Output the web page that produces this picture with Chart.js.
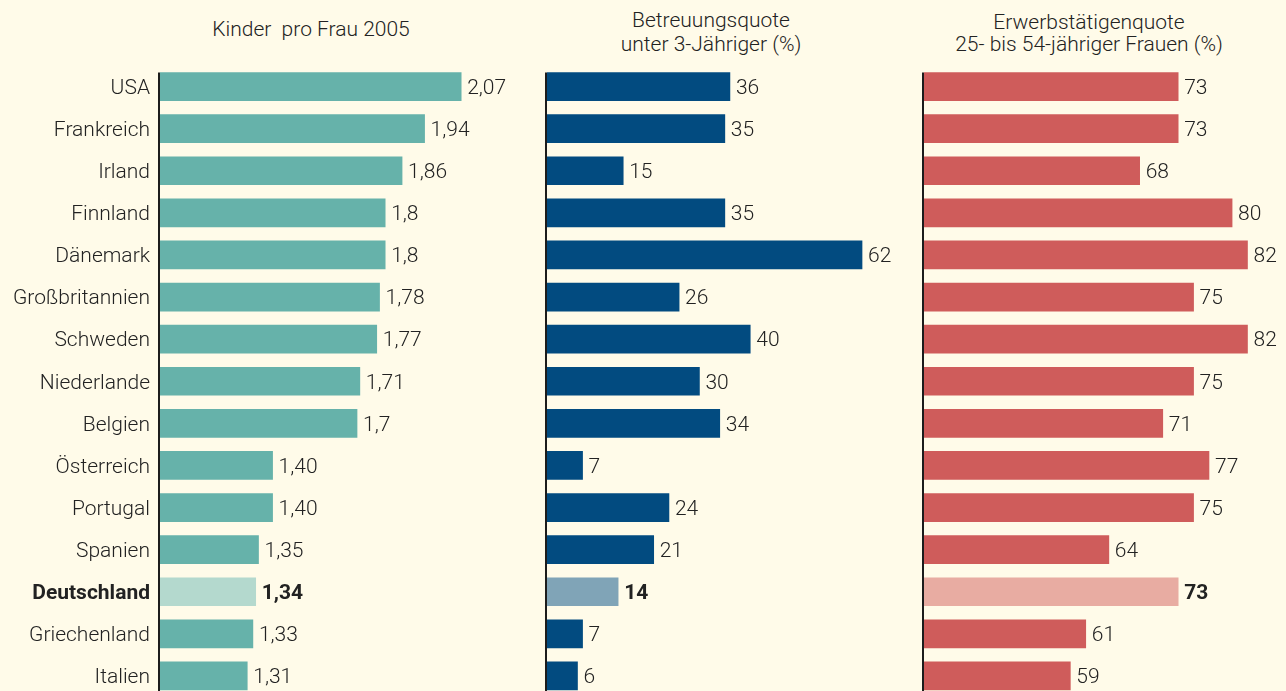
<!DOCTYPE html>
<html lang="de">
<head>
<meta charset="UTF-8">
<title>Kinder, Betreuung, Erwerbstätigkeit</title>
<script src="https://cdn.jsdelivr.net/npm/chart.js"></script>
<style>
    html, body {
        margin: 0;
        padding: 0;
        width: 1286px;
        height: 691px;
        overflow: hidden;
        background: #fffbe9;
        font-family: 'Roboto', 'Liberation Sans', sans-serif;
        color: #222;
    }
    .panel { position: absolute; top: 0; }
    .title {
        position: absolute;
        font-size: 21px;
        font-weight: 300;
        text-align: center;
        white-space: pre;
        transform: translateX(-50%);
    }
</style>
</head>
<body>
<div class="title" style="left:311px; top:15px; line-height:28px;">Kinder  pro Frau 2005</div>
<div class="title" style="left:711px; top:8px; line-height:24px;">Betreuungsquote
unter 3-Jähriger (%)</div>
<div class="title" style="left:1089px; top:11px; line-height:22px;">Erwerbstätigenquote
25- bis 54-jähriger Frauen (%)</div>

<div class="panel" style="left:0px;"><canvas id="kinderChart" width="540" height="697"></canvas></div>
<div class="panel" style="left:540px;"><canvas id="betreuungChart" width="383" height="697"></canvas></div>
<div class="panel" style="left:915px;"><canvas id="erwerbChart" width="371" height="697"></canvas></div>

<script>
// data read from the graphic
const countries = ['USA', 'Frankreich', 'Irland', 'Finnland', 'Dänemark', 'Großbritannien', 'Schweden',
    'Niederlande', 'Belgien', 'Österreich', 'Portugal', 'Spanien', 'Deutschland', 'Griechenland', 'Italien'];
const kinderProFrau = [2.07, 1.94, 1.86, 1.8, 1.8, 1.78, 1.77, 1.71, 1.7, 1.40, 1.40, 1.35, 1.34, 1.33, 1.31];
const kinderLabels = ['2,07', '1,94', '1,86', '1,8', '1,8', '1,78', '1,77', '1,71', '1,7', '1,40', '1,40', '1,35', '1,34', '1,33', '1,31'];
const betreuungsquote = [36, 35, 15, 35, 62, 26, 40, 30, 34, 7, 24, 21, 14, 7, 6];
const erwerbsquote = [73, 73, 68, 80, 82, 75, 82, 75, 71, 77, 75, 64, 73, 61, 59];
const highlight = 'Deutschland';

const FONT = 'Roboto, "Liberation Sans", sans-serif';
const TEXT = '#222';

// axis line, country names and value labels
const barDecor = {
    id: 'barDecor',
    afterDatasetsDraw(chart, args, opts) {
        const ctx = chart.ctx;
        const bars = chart.getDatasetMeta(0).data;
        const area = chart.chartArea;
        const yScale = chart.scales.y;
        ctx.save();
        ctx.strokeStyle = '#1c1c1c';
        ctx.lineWidth = 2;
        ctx.beginPath();
        ctx.moveTo(area.left - 1, bars[0].y - bars[0].height / 2);
        ctx.lineTo(area.left - 1, chart.height);
        ctx.stroke();

        ctx.fillStyle = TEXT;
        ctx.textBaseline = 'middle';
        bars.forEach((bar, i) => {
            const bold = countries[i] === highlight;
            ctx.font = (bold ? 'bold ' : '300 ') + '21px ' + FONT;
            ctx.textAlign = 'left';
            ctx.fillText(opts.labels[i], bar.x + 6, bar.y + 2);
            if (opts.categories) {
                ctx.textAlign = 'right';
                ctx.fillText(countries[i], area.left - 10, yScale.getPixelForValue(i) + 2);
            }
        });
        ctx.restore();
    }
};

function makeChart(id, values, labels, color, light, min, max, padLeft, showCategories) {
    const ctx = document.getElementById(id).getContext('2d');
    return new Chart(ctx, {
        type: 'bar',
        data: {
            labels: countries,
            datasets: [{
                data: values,
                backgroundColor: countries.map(c => c === highlight ? light : color),
                borderWidth: 0,
                barThickness: 28
            }]
        },
        options: {
            indexAxis: 'y',
            responsive: false,
            animation: false,
            layout: { padding: { top: 65.5, left: padLeft, right: 0, bottom: 0 } },
            plugins: {
                legend: { display: false },
                tooltip: { enabled: false },
                barDecor: { labels: labels, categories: showCategories }
            },
            scales: {
                x: { display: false, min: min, max: max },
                y: { display: false }
            }
        },
        plugins: [barDecor]
    });
}

makeChart('kinderChart', kinderProFrau, kinderLabels, '#66b2aa', '#b4d9ce', 1, 2.35, 160, true);
makeChart('betreuungChart', betreuungsquote, betreuungsquote.map(String), '#024b80', '#80a4b7', 0, 74, 7, false);
makeChart('erwerbChart', erwerbsquote, erwerbsquote.map(String), '#cf5c5b', '#e8aca2', 40, 87, 9, false);
</script>
</body>
</html>
